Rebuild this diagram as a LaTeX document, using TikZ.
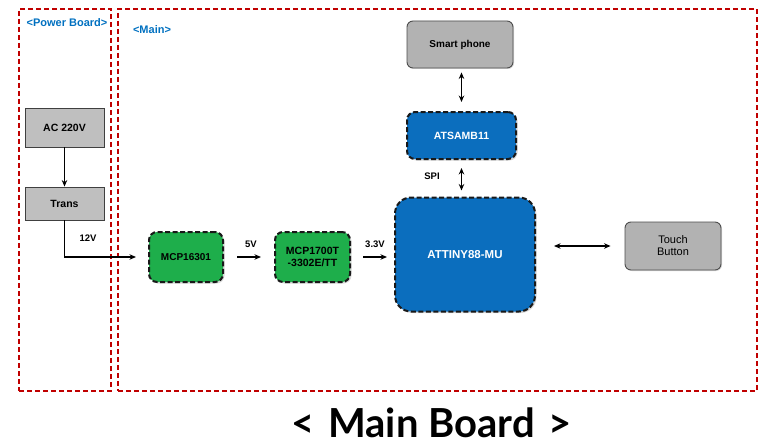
\documentclass[tikz,border=0pt]{standalone}
\usepackage{fontspec}
\setmainfont{Liberation Sans}
\newfontfamily\titlefont{Lato}
\usetikzlibrary{arrows.meta,shadows}
\definecolor{frameRed}{HTML}{C00000}
\definecolor{labBlue}{HTML}{0070C0}
\definecolor{chipGreen}{HTML}{1EAE4B}
\definecolor{chipBlue}{HTML}{0B6EBE}
\definecolor{boxGrey}{HTML}{BFBFBF}
\definecolor{boxGreyR}{HTML}{B2B2B2}
\tikzset{
  frame/.style={draw=frameRed,line width=1.6pt,dash pattern=on 5pt off 3pt,inner sep=0pt},
  greybox/.style={draw=black!75,line width=0.9pt,fill=boxGrey,inner sep=0pt,font=\bfseries\fontsize{10.5}{12}\selectfont,align=center},
  roundgrey/.style={draw=black!70,line width=0.9pt,fill=boxGreyR,rounded corners=6pt,inner sep=0pt,align=center,drop shadow={shadow xshift=1pt,shadow yshift=-1pt,opacity=0.3}},
  chip/.style={draw=black!90,line width=2pt,dash pattern=on 5pt off 2.5pt,rounded corners=8pt,inner sep=0pt,align=center,font=\bfseries\fontsize{10.5}{12}\selectfont,drop shadow={shadow xshift=1.5pt,shadow yshift=-1.5pt,opacity=0.3}},
  greenchip/.style={chip,fill=chipGreen},
  bluechip/.style={chip,fill=chipBlue,text=white},
  lab/.style={font=\bfseries\fontsize{9.5}{11}\selectfont,inner sep=0pt},
  bluelab/.style={font=\bfseries\fontsize{11}{12}\selectfont,text=labBlue,inner sep=0pt},
  arr/.style={line width=1.2pt,-{Stealth[length=6.5pt,width=5.5pt]}},
  darr/.style={line width=1.2pt,{Stealth[length=6.5pt,width=5.5pt]}-{Stealth[length=6.5pt,width=5.5pt]}},
}
\begin{document}
\begin{tikzpicture}[x=1pt,y=-1pt]
\useasboundingbox (0,0) rectangle (758,444);
% frames
\node[frame,minimum width=92pt,minimum height=382pt] (pframe) at (65,200) {};
\node[frame,minimum width=639pt,minimum height=382pt] (mframe) at (437.5,200) {};
\node[bluelab] (plab) at (67,23) {<Power Board>};
\node[bluelab] (mlab) at (152,30) {<Main>};
% power board
\node[greybox,minimum width=79pt,minimum height=39pt] (ac) at (64.5,127.5) {AC 220V};
\node[greybox,minimum width=79pt,minimum height=33pt] (trans) at (64.5,203.5) {Trans};
% main chips
\node[greenchip,minimum width=74pt,minimum height=50pt,font=\bfseries\fontsize{10}{12}\selectfont] (mcp1) at (186,257) {MCP16301};
\node[greenchip,minimum width=75pt,minimum height=50pt] (mcp2) at (312.5,257) {MCP1700T\\-3302E/TT};
\node[bluechip,minimum width=140pt,minimum height=114pt,rounded corners=16pt,font=\bfseries\fontsize{11.5}{13}\selectfont] (att) at (465,254.5) {ATTINY88-MU};
\node[bluechip,minimum width=109pt,minimum height=47pt] (sam) at (461.5,135.5) {ATSAMB11};
\node[roundgrey,minimum width=106pt,minimum height=47pt,font=\bfseries\fontsize{10}{11}\selectfont] (phone) at (460,44.5) {Smart phone};
\node[roundgrey,minimum width=96pt,minimum height=48pt,font=\fontsize{11}{12}\selectfont] (touch) at (673,246) {Touch\\Button};
% connectors
\draw[arr] (ac) -- (trans);
\draw[arr,shorten >=12pt] (trans.south) |- (mcp1.west);
\node[lab] (v12) at (88,238) {12V};
\draw[arr,shorten <=13pt,shorten >=13pt] (mcp1.east) -- (mcp2.west);
\node[lab] (v5) at (251,244) {5V};
\draw[arr,shorten <=12pt,shorten >=7pt] (mcp2.east) -- (mcp2.east -| att.west);
\node[lab] (v33) at (375,244) {3.3V};
\draw[darr,shorten <=4pt,shorten >=9pt] (phone.south -| sam.north) -- (sam.north);
\draw[darr,shorten <=8pt,shorten >=6pt] (sam.south) -- (sam.south |- att.north);
\node[lab] (spi) at (432,176) {SPI};
\draw[darr,shorten <=18pt,shorten >=14pt] (att.east |- touch.west) -- (touch.west);
% title
\node[font=\titlefont\bfseries\fontsize{40}{42}\selectfont,inner sep=0pt,anchor=base] (title) at (431.5,437) {<\hspace{4pt} Main Board \hspace{4pt}>};
\end{tikzpicture}
\end{document}
